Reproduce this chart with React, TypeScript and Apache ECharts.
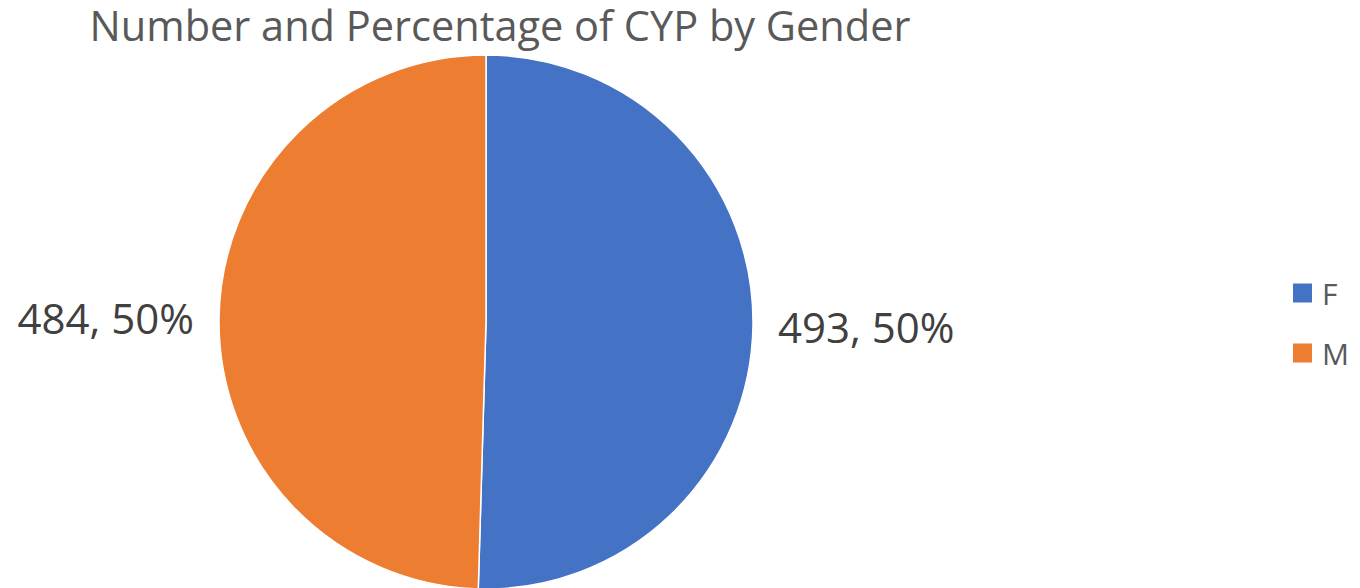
import React, { useEffect, useRef } from "react";
import * as echarts from "echarts";

const categories = ["F", "M"];
const values = [493, 484];
const colors = ["#4472C4", "#ED7D31"];
const titleText = "Number and Percentage of CYP by Gender";

export default function App() {
  const ref = useRef<HTMLDivElement>(null);
  useEffect(() => {
    document.body.style.margin = "0";
    const chart = echarts.init(ref.current!, null, { renderer: "svg" });
    const total = values.reduce((a, b) => a + b, 0);
    chart.setOption({
      animation: false,
      backgroundColor: "#ffffff",
      title: {
        text: titleText,
        left: 500,
        top: 3,
        padding: 0,
        textAlign: "center",
        textStyle: {
          fontFamily: "Open Sans",
          fontSize: 41.5,
          lineHeight: 44,
          fontWeight: "normal",
          color: "#595959",
        },
      },
      legend: {
        orient: "vertical",
        left: 1286,
        top: 273,
        icon: "rect",
        itemWidth: 21,
        itemHeight: 21,
        itemGap: 30,
        data: categories,
        textStyle: {
          fontFamily: "Open Sans",
          fontSize: 30,
          lineHeight: 30,
          color: "#595959",
          padding: [0, 0, 0, 4],
        },
      },
      series: [
        {
          type: "pie",
          center: [486, 322],
          radius: 267,
          startAngle: 90,
          clockwise: true,
          data: categories.map((c, i) => ({
            name: c,
            value: values[i],
            itemStyle: { color: colors[i] },
          })),
          itemStyle: { borderColor: "#ffffff", borderWidth: 1.5 },
          label: {
            show: true,
            position: "outside",
            distanceToLabelLine: 5,
            formatter: (p: any) =>
              `${p.value}, ${Math.round((p.value / total) * 100)}%`,
            fontFamily: "Open Sans",
            fontSize: 42,
            color: "#404040",
          },
          labelLine: { show: false, length: 10, length2: 10 },
          emphasis: { disabled: true },
        },
      ],
    });
    return () => chart.dispose();
  }, []);
  return <div ref={ref} style={{ width: 1360, height: 588 }} />;
}
